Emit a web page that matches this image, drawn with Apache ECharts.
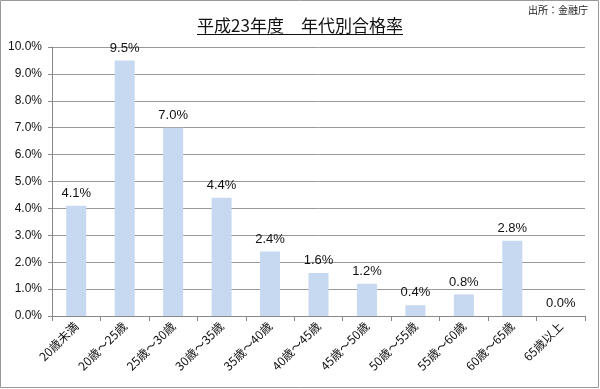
<!DOCTYPE html>
<html><head><meta charset="utf-8">
<script src="https://cdn.jsdelivr.net/npm/echarts@6/dist/echarts.min.js"></script>
<style>html,body{margin:0;padding:0;background:#fff}#c{width:600px;height:389px}</style>
</head><body><div id="c"></div>
<script>
const categories = ['20歳未満','20歳～25歳','25歳～30歳','30歳～35歳','35歳～40歳','40歳～45歳','45歳～50歳','50歳～55歳','55歳～60歳','60歳～65歳','65歳以上'];
const passRates = [4.1, 9.5, 7.0, 4.4, 2.4, 1.6, 1.2, 0.4, 0.8, 2.8, 0.0];
const titleText = '平成23年度　年代別合格率';
const sourceText = '出所：金融庁';
const fontJP = '"Noto Sans CJK JP", sans-serif';
const fontNum = '"Liberation Sans", "Noto Sans CJK JP", sans-serif';

const chart = echarts.init(document.getElementById('c'));
chart.setOption({
  animation: false,
  title: {
    text: titleText, left: 'center', top: 12,
    textStyle: { fontFamily: fontJP, fontSize: 17, fontWeight: 'normal', color: '#111' }
  },
  graphic: [
    { type: 'rect', shape: { x: 0.5, y: 0.5, width: 598, height: 387 }, style: { fill: 'none', stroke: '#999', lineWidth: 1 }, silent: true },
    { type: 'line', shape: { x1: 197, y1: 34.5, x2: 403, y2: 34.5 }, style: { stroke: '#111', lineWidth: 1 } },
    { type: 'text', right: 12, top: 5, style: { text: sourceText, font: '10px "Noto Sans CJK JP", sans-serif', fill: '#222' } }
  ],
  grid: { left: 52, right: 15, top: 47, bottom: 73, containLabel: false },
  xAxis: {
    type: 'category', data: categories,
    axisLine: { lineStyle: { color: '#888' } },
    axisTick: { show: true, length: 5, lineStyle: { color: '#888' } },
    axisLabel: { rotate: 45, interval: 0, fontFamily: fontJP, fontSize: 12, color: '#111', margin: 8 }
  },
  yAxis: {
    type: 'value', min: 0, max: 10, interval: 1,
    axisLine: { show: true, lineStyle: { color: '#888' } },
    axisTick: { show: true, length: 4, lineStyle: { color: '#888' } },
    splitLine: { lineStyle: { color: '#999' } },
    axisLabel: { formatter: v => v.toFixed(1) + '%', fontFamily: fontNum, fontSize: 12, color: '#111', margin: 10 }
  },
  series: [{
    type: 'bar', data: passRates, barWidth: 20,
    itemStyle: { color: '#c6d9f1' },
    label: { show: true, position: 'top', distance: 6, formatter: p => p.value.toFixed(1) + '%', fontFamily: fontNum, fontSize: 13, color: '#111' }
  }]
});
</script></body></html>
